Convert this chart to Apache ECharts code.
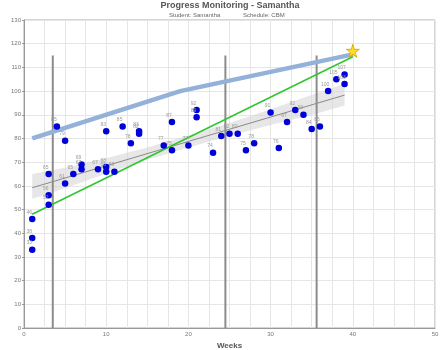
<!DOCTYPE html>
<html><head><meta charset="utf-8">
<script src="https://cdn.jsdelivr.net/npm/echarts@6/dist/echarts.min.js"></script>
<style>html,body{margin:0;padding:0;background:#fff}#c{width:440px;height:350px}</style>
</head><body><div id="c"></div>
<script>
// Data
const pointWeeks = [1,1,1, 3,3,3, 4, 5,5, 6, 7,7, 9, 10,10,10, 11, 12, 13, 14,14, 17, 18,18, 20, 21,21, 23, 24, 25, 26, 27, 28, 30, 31, 32, 33, 34, 35, 36, 37, 38, 39,39];
const pointValues = [33,38,46, 52,56,65, 85, 79,61, 65, 69,67, 67, 68,66,83, 66, 85, 78, 83,82, 77, 75,87, 77, 92,89, 74, 81, 82, 82, 75, 78, 91, 76, 87, 92, 90, 84, 85, 100, 105, 107,103];
const goalWeeks = [1, 19, 40];
const goalValues = [80, 100, 115.5];
const aimWeeks = [1, 40];
const aimValues = [48, 114.5];
const trendWeeks = [1, 39];
const trendValues = [59.2, 98.3];
const bandWeeks = [1, 5, 10, 15, 20, 25, 30, 35, 39];
const bandLow  = [54.5, 59.0, 65.2, 71.0, 76.2, 81.1, 85.7, 89.9, 93.9];
const bandHigh = [65.0, 67.6, 71.6, 76.2, 81.2, 86.5, 92.3, 98.3, 103.1];
const phaseWeeks = [3.5, 24.5, 35.6];
const phaseTop = 115;
const starPoint = [40, 117];
const xTicks = [0, 10, 20, 30, 40, 50];

const FONT = 'Liberation Sans, Arial, sans-serif';
const chart = echarts.init(document.getElementById('c'), null, {renderer: 'canvas'});

const series = [];
series.push({
  type: 'custom', coordinateSystem: 'cartesian2d', silent: true, z: 1,
  data: [[0, 0]],
  renderItem: function (params, api) {
    const pts = [];
    for (let i = 0; i < bandWeeks.length; i++) pts.push(api.coord([bandWeeks[i], bandHigh[i]]));
    for (let i = bandWeeks.length - 1; i >= 0; i--) pts.push(api.coord([bandWeeks[i], bandLow[i]]));
    return {type: 'polygon', shape: {points: pts}, style: {fill: 'rgba(215,215,215,0.6)'}};
  }
});
series.push({
  type: 'line', data: trendWeeks.map((w, i) => [w, trendValues[i]]), symbol: 'none', z: 2,
  lineStyle: {color: '#8a8a8a', width: 1}, silent: true
});
phaseWeeks.forEach(w => {
  series.push({
    type: 'line', data: [[w, 0], [w, phaseTop]], symbol: 'none', z: 3,
    lineStyle: {color: '#8c8c8c', width: 2}, silent: true
  });
});
series.push({
  type: 'line', data: goalWeeks.map((w, i) => [w, goalValues[i]]), symbol: 'none', z: 4,
  lineStyle: {color: '#94b1d9', width: 4.5}, silent: true
});
series.push({
  type: 'line', data: aimWeeks.map((w, i) => [w, aimValues[i]]), symbol: 'none', z: 5,
  lineStyle: {color: '#2ec62e', width: 1.5}, silent: true
});
series.push({
  type: 'scatter', data: pointWeeks.map((w, i) => [w, pointValues[i]]), z: 6,
  symbol: 'circle', symbolSize: 6.5,
  itemStyle: {color: '#0000d8', opacity: 1},
  label: {show: true, position: 'top', distance: 1, offset: [-3, 0], fontSize: 5, color: '#9a9a9a', fontFamily: FONT,
    formatter: p => String(p.value[1])}
});
series.push({
  type: 'scatter', data: [starPoint], z: 7,
  symbol: 'path://M50,0 L61,35 L98,35 L68,57 L79,91 L50,70 L21,91 L32,57 L2,35 L39,35 Z',
  symbolSize: 13,
  itemStyle: {color: '#ffdd22', borderColor: '#d8a000', borderWidth: 0.8, opacity: 1}
});

chart.setOption({
  animation: false,
  backgroundColor: '#fff',
  title: [
    {text: 'Progress Monitoring - Samantha', left: 230, top: 1, padding: 0, textAlign: 'center',
      textStyle: {fontSize: 9, fontWeight: 'bold', color: '#555', fontFamily: FONT}},
    {text: 'Student: Samantha', left: 169, top: 12, padding: 0,
      textStyle: {fontSize: 6, fontWeight: 'normal', color: '#666', fontFamily: FONT}},
    {text: 'Schedule: CBM', left: 243, top: 12, padding: 0,
      textStyle: {fontSize: 6, fontWeight: 'normal', color: '#666', fontFamily: FONT}}
  ],
  grid: {left: 24, right: 5, top: 20, bottom: 22, containLabel: false, outerBoundsMode: 'none',
    show: true, borderColor: '#aaa', borderWidth: 1},
  xAxis: {
    type: 'value', min: 0, max: 50, interval: 2.5,
    name: 'Weeks', nameLocation: 'middle', nameGap: 10,
    nameTextStyle: {fontSize: 8, fontWeight: 'bold', color: '#555', fontFamily: FONT},
    axisLine: {lineStyle: {color: '#999'}},
    axisTick: {show: false},
    axisLabel: {fontSize: 6, color: '#777', margin: 3, fontFamily: FONT,
      formatter: v => (xTicks.indexOf(v) >= 0 ? String(v) : '')},
    splitLine: {lineStyle: {color: '#e6e6e6', width: 1}}
  },
  yAxis: {
    type: 'value', min: 0, max: 130, interval: 10,
    name: 'Words read correctly', nameLocation: 'middle', nameGap: 14, nameRotate: 90,
    nameTextStyle: {fontSize: 8, fontWeight: 'bold', color: '#555', fontFamily: FONT},
    axisLine: {show: true, lineStyle: {color: '#999'}},
    axisTick: {show: true, length: 2, lineStyle: {color: '#999'}},
    axisLabel: {fontSize: 6, color: '#777', margin: 3, fontFamily: FONT},
    splitLine: {lineStyle: {color: '#e6e6e6', width: 1}}
  },
  series: series
});
</script></body></html>
